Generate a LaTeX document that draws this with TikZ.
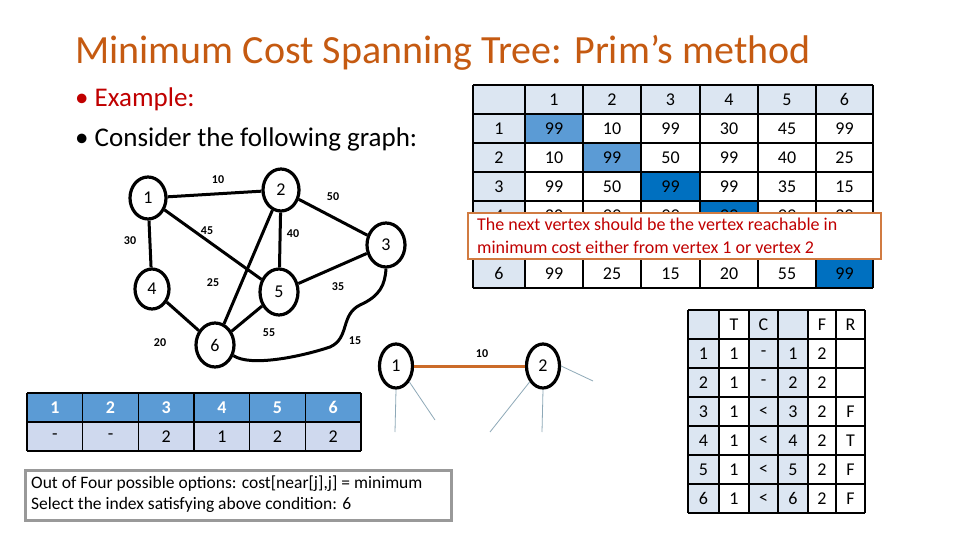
\documentclass[tikz,border=0pt]{standalone}
\usepackage{fontspec}
\setmainfont{Carlito}
\usetikzlibrary{shapes.geometric}
\definecolor{ttl}{HTML}{C55A11}
\definecolor{rd}{HTML}{C00000}
\definecolor{lb}{HTML}{DCE6F2}
\definecolor{mb}{HTML}{5B9BD5}
\definecolor{db}{HTML}{0070C0}
\definecolor{lb2}{HTML}{CFD9EE}
\definecolor{gl}{HTML}{8EA9B8}
\tikzset{
 vx/.style={ellipse,draw,line width=3.2pt,minimum width=#1,minimum height=42pt,inner sep=0pt,font=\fontsize{18}{18}\selectfont},
 vx/.default=36pt,
 ed/.style={line width=3pt},
 el/.style={font=\bfseries\fontsize{12}{12}\selectfont},
 cell/.style={font=\fontsize{18}{18}\selectfont},
 grid/.style={line width=1.6pt}
}
\begin{document}
\begin{tikzpicture}[x=1pt,y=-1pt]
\useasboundingbox (0,0) rectangle (960,540);
\fill[white] (0,0) rectangle (960,540);
\node[anchor=west,text=ttl,font=\fontsize{40}{40}\selectfont,inner sep=0pt] (title) at (75,53) {Minimum Cost Spanning Tree: Prim’s method};
\node[anchor=west,text=rd,font=\fontsize{27}{27}\selectfont,inner sep=0pt] (b1) at (75,99) {• Example:};
\node[anchor=west,font=\fontsize{27}{27}\selectfont,inner sep=0pt] (b2) at (75,139) {• Consider the following graph:};
% graph
\node[vx] (n1) at (148,198) {1};
\node[vx] (n2) at (281,190) {2};
\node[vx=38pt,minimum height=44pt] (n3) at (386,245) {3};
\node[vx=34pt,minimum height=40pt] (n4) at (152,289) {4};
\node[vx=38pt,minimum height=46pt] (n5) at (279,292) {5};
\node[vx=38pt,minimum height=44pt] (n6) at (215,345) {6};
\draw[ed] (n1)--(n2); \draw[ed] (n2)--(n3); \draw[ed] (n1)--(n5);
\draw[ed] (n2)--(n5); \draw[ed] (n1)--(n4); \draw[ed] (n2)--(n6);
\draw[ed] (n5)--(n3); \draw[ed] (n4)--(n6); \draw[ed] (n5)--(n6);
\draw[ed] (n6.-30) .. controls (250,367) and (300,357) .. (330,347) .. controls (350,338) and (340,315) .. (360,305) .. controls (380,296) and (385,285) .. (n3.-90);
\node[el] at (218,180) {10}; \node[el] at (333,197) {50};
\node[el] at (207,231) {45}; \node[el] at (293,234) {40};
\node[el] at (130,241) {30}; \node[el] at (213,283) {25};
\node[el] at (338,287) {35}; \node[el] at (160,343) {20};
\node[el] at (269,333) {55}; \node[el] at (355,341) {15};
% second graph
\node[vx=33pt,minimum height=44pt] (m1) at (396,366) {1};
\node[vx=33pt,minimum height=44pt] (m2) at (543,366) {2};
\draw[line width=3pt,ttl!90] (m1)--(m2);
\node[el] at (482,354) {10};
\coordinate (g1) at (395,432); \coordinate (g2) at (435,420);
\coordinate (g3) at (490,432); \coordinate (g4) at (542,432); \coordinate (g5) at (593,381);
\draw[gl,line width=0.8pt] (m1.south)--(g1); \draw[gl,line width=0.8pt] (m1.-50)--(g2);
\draw[gl,line width=0.8pt] (m2.-130)--(g3); \draw[gl,line width=0.8pt] (m2.south)--(g4);
\draw[gl,line width=0.8pt] (m2.east)--(g5);
% big matrix
\def\cx{{473,525,583,641,700,758,816,873}}
\fill[lb] (473,85) rectangle (873,114);
\fill[lb] (473,85) rectangle (525,288);
\fill[mb] (525,114) rectangle (583,143);
\fill[mb] (583,143) rectangle (641,172);
\fill[db] (641,172) rectangle (700,201);
\fill[db] (700,201) rectangle (758,230);
\fill[db] (758,230) rectangle (816,259);
\fill[db] (816,259) rectangle (873,288);
\foreach \x in {473,525,583,641,700,758,816,873} \draw[grid] (\x,85)--(\x,288);
\foreach \y in {85,114,143,172,201,230,259,288} \draw[grid] (473,\y)--(873,\y);
\foreach \v [count=\i] in {1,2,3,4,5,6} {
  \pgfmathsetmacro\xa{\cx[\i]} \pgfmathsetmacro\xb{\cx[\i+1]}
  \node[cell] at ({(\xa+\xb)/2},99.5) {\v};
}
\foreach \v in {1,2,3,4,6} \node[cell] at (499,{85+29*\v+14.5}) {\v};
\foreach \r/\row in {1/{99,10,99,30,45,99},2/{10,99,50,99,40,25},3/{99,50,99,99,35,15},4/{30,99,99,99,99,20},6/{99,25,15,20,55,99}} {
  \foreach \v [count=\c] in \row {
    \pgfmathsetmacro\xa{\cx[\c]} \pgfmathsetmacro\xb{\cx[\c+1]}
    \node[cell] at ({(\xa+\xb)/2},{85+29*\r+14.5}) {\v};
  }
}
\node[draw=ttl!80,line width=1.5pt,fill=white,minimum width=413pt,minimum height=46pt,anchor=north west] (call) at (467,212) {};
\node[anchor=north west,text=rd,align=left,font=\fontsize{18}{23}\selectfont,inner sep=0pt] (ct) at (477,218) {The next vertex should be the vertex reachable in\\minimum cost either from vertex 1 or vertex 2};
% small table
\def\sx{{688,719,749,778,808,836,865}}
\fill[lb] (688,310) rectangle (719,513);
\fill[lb] (749,310) rectangle (808,513);
\foreach \x in {688,719,749,778,808,836,865} \draw[grid] (\x,310)--(\x,513);
\foreach \k in {0,...,7} \draw[grid] (688,310+29*\k)--(865,310+29*\k);
\foreach \r/\row in {0/{ ,T,C, ,F,R},1/{1,1,-,1,2, },2/{2,1,-,2,2, },3/{3,1,<,3,2,F},4/{4,1,<,4,2,T},5/{5,1,<,5,2,F},6/{6,1,<,6,2,F}} {
  \foreach \v [count=\c] in \row {
    \pgfmathsetmacro\xa{\sx[\c-1]} \pgfmathsetmacro\xb{\sx[\c]}
    \node[cell] at ({(\xa+\xb)/2},{310+29*\r+14.5}) {\v};
  }
}
% bottom-left table
\fill[mb] (27,393) rectangle (361,422);
\fill[lb2] (27,422) rectangle (361,451);
\foreach \k in {0,...,6} \draw[grid] ({27+55.67*\k},393)--({27+55.67*\k},451);
\foreach \y in {393,422,451} \draw[grid] (27,\y)--(361,\y);
\foreach \a/\b [count=\k] in {1/-,2/-,3/2,4/1,5/2,6/2} {
  \node[cell,text=white,font=\bfseries\fontsize{18}{18}\selectfont] at ({27+55.67*\k-27.8},407.5) {\a};
  \node[cell] at ({27+55.67*\k-27.8},436.5) {\b};
}
\node[draw=black!40,line width=2.5pt,minimum width=426pt,minimum height=50pt,anchor=north west] (box) at (24,469) {};
\node[anchor=west,align=left,inner sep=0pt,font=\fontsize{17.5}{21}\selectfont] (bt) at (31,494) {Out of Four possible options: cost[near[j],j] = minimum\\Select the index satisfying above condition: 6};
\end{tikzpicture}
\end{document}
